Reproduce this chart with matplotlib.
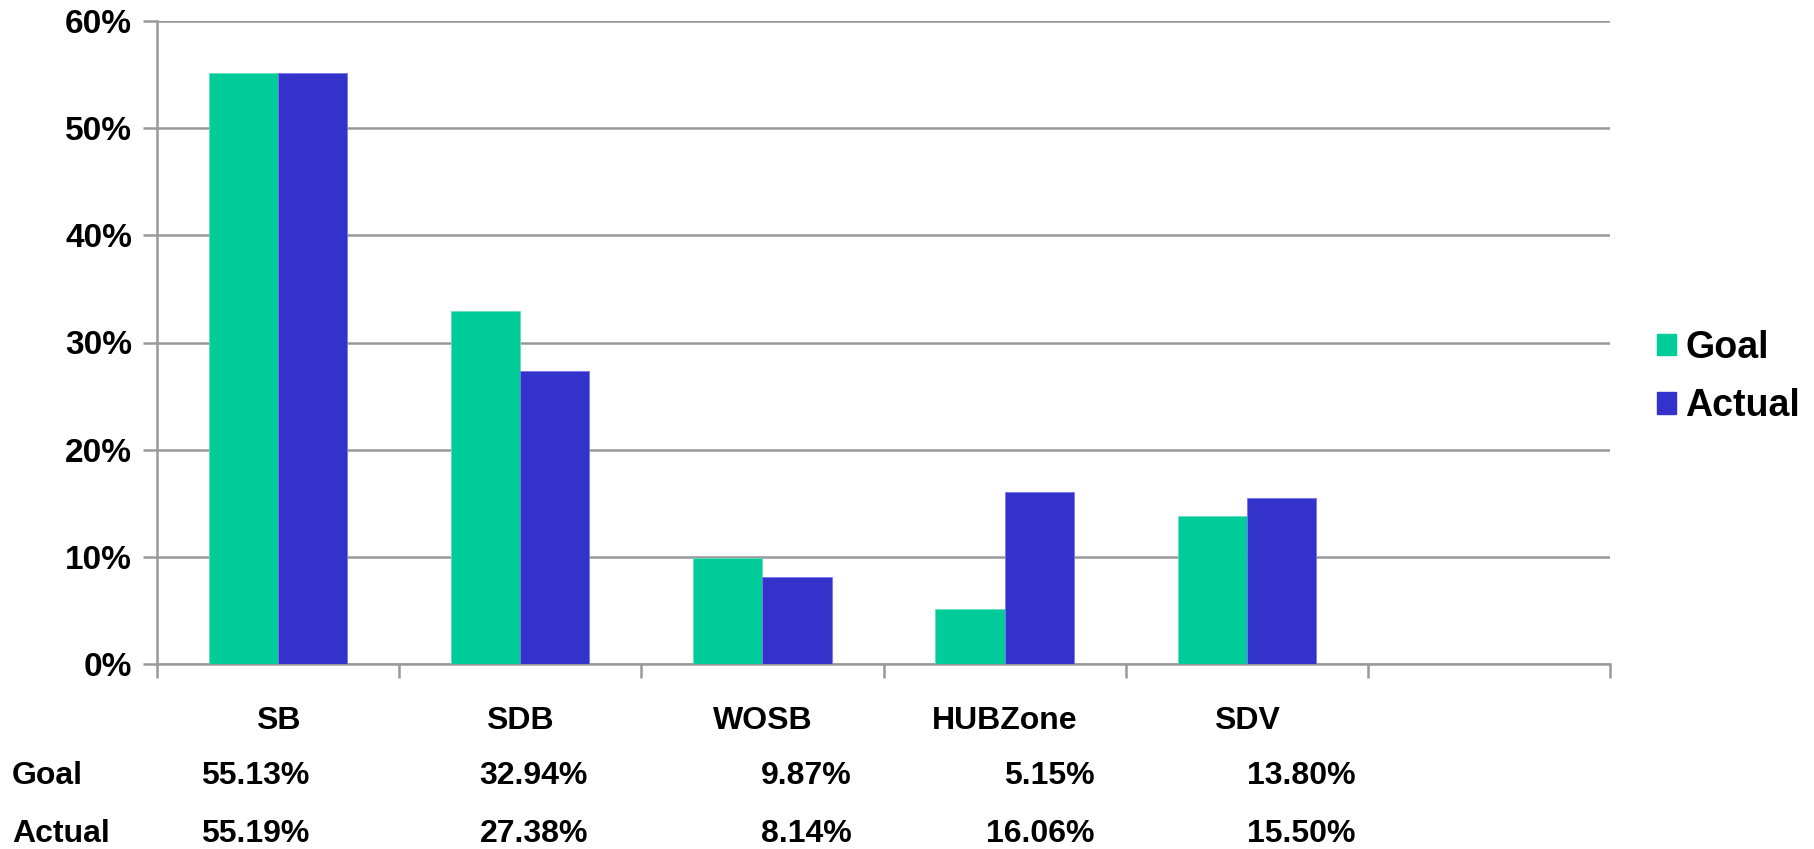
import numpy as np
import matplotlib
matplotlib.use("Agg")
import matplotlib.pyplot as plt
from matplotlib.patches import Patch
import matplotlib.transforms as mtransforms

plt.rcParams["font.family"] = ["Liberation Sans", "DejaVu Sans"]
plt.rcParams["font.weight"] = "bold"

CATS = ["SB", "SDB", "WOSB", "HUBZone", "SDV"]
GOAL = [55.13, 32.94, 9.87, 5.15, 13.80]
ACTUAL = [55.19, 27.38, 8.14, 16.06, 15.50]
GOAL_TXT = ["55.13%", "32.94%", "9.87%", "5.15%", "13.80%"]
ACTUAL_TXT = ["55.19%", "27.38%", "8.14%", "16.06%", "15.50%"]
N_SLOTS = 6                      # the chart keeps one empty category slot

GOAL_C, ACT_C = "#00CC99", "#3333CC"
GRID_C = "#999999"

fig = plt.figure(figsize=(18.14, 8.49), dpi=100)
ax = fig.add_axes([157 / 1814, 1 - 664 / 849, (1610 - 157) / 1814, (664 - 21) / 849])

x = np.arange(len(CATS))
w = 1 / 3.5
ax.bar(x - w / 2, GOAL, w, color=GOAL_C, edgecolor="#66ddbb", linewidth=0.6, zorder=3)
ax.bar(x + w / 2, ACTUAL, w, color=ACT_C, edgecolor="#7777ee", linewidth=0.6, zorder=3)

ax.set_xlim(-0.5, N_SLOTS - 0.5)
ax.set_ylim(0, 60)
ax.set_yticks(range(0, 61, 10))
ax.set_yticklabels(["%d%%" % v for v in range(0, 61, 10)], fontsize=24, fontweight="bold")
ax.yaxis.grid(True, color=GRID_C, lw=1.8, zorder=0)
ax.set_axisbelow(True)

ax.set_xticks(np.arange(N_SLOTS + 1) - 0.5)
ax.set_xticklabels([])
ax.set_xticks(x, minor=True)
ax.set_xticklabels(CATS, minor=True, fontsize=23, fontweight="bold")
ax.tick_params(axis="x", which="major", length=10, width=1.8, color=GRID_C, direction="out")
ax.tick_params(axis="x", which="minor", length=0, pad=30)
ax.tick_params(axis="y", length=10, width=1.8, color=GRID_C, pad=8)

for s in ("top", "right"):
    ax.spines[s].set_visible(False)
for s in ("left", "bottom"):
    ax.spines[s].set_color(GRID_C)
    ax.spines[s].set_linewidth(1.8)

# data table under the axis
trans = mtransforms.blended_transform_factory(ax.transData, fig.transFigure)
TABLE_RIGHT = [0.13, 1.28, 2.37, 3.37, 4.45]   # right edges of the value columns (data x)
for label, txts, yy in (("Goal", GOAL_TXT, 1 - 776 / 849), ("Actual", ACTUAL_TXT, 1 - 834 / 849)):
    fig.text(12 / 1814, yy, label, fontsize=23, fontweight="bold", va="center", ha="left")
    for xr, t in zip(TABLE_RIGHT, txts):
        ax.text(xr, yy, t, transform=trans, fontsize=23, fontweight="bold",
                va="center", ha="right", clip_on=False)

handles = [Patch(color=GOAL_C, label="Goal"), Patch(color=ACT_C, label="Actual")]
fig.legend(handles=handles, loc="center left", bbox_to_anchor=(1657 / 1814, 1 - 377 / 849),
           frameon=False, prop={"weight": "bold", "size": 27}, borderpad=0, borderaxespad=0,
           handlelength=0.5, handleheight=0.5, handletextpad=0.25, labelspacing=0.6)

fig.savefig("out.png", dpi=100)
